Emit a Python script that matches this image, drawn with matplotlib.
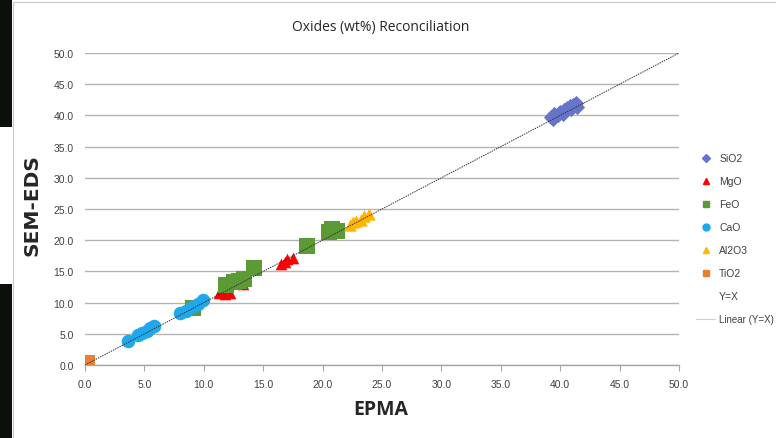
import numpy as np
import matplotlib
matplotlib.use('Agg')
from matplotlib import pyplot as plt
from matplotlib.lines import Line2D
from matplotlib.patches import Rectangle

# data (EPMA, SEM-EDS), wt%
sio2_x = [39.2, 39.5, 39.8, 40.0, 40.3, 40.6, 40.9, 41.1, 41.3, 39.4, 40.2, 40.8, 41.4]
sio2_y = [39.8, 40.3, 40.0, 40.6, 40.9, 41.2, 41.0, 41.6, 42.0, 39.4, 40.2, 41.5, 41.3]
mgo_x = [11.3, 11.6, 11.8, 12.2, 13.3, 16.5, 16.8, 17.0, 17.5]
mgo_y = [11.5, 11.8, 11.3, 11.6, 13.0, 16.2, 16.5, 17.0, 17.2]
feo_x = [9.1, 11.9, 12.5, 13.0, 13.4, 14.2, 18.7, 20.5, 20.8, 21.2]
feo_y = [9.1, 12.8, 13.3, 13.5, 13.8, 15.5, 19.1, 21.3, 21.8, 21.5]
cao_x = [3.6, 4.5, 4.8, 5.2, 5.5, 5.8, 8.0, 8.5, 9.0, 9.5, 9.9]
cao_y = [3.9, 4.8, 5.2, 5.4, 5.9, 6.2, 8.4, 8.7, 9.3, 9.8, 10.4]
al2o3_x = [22.3, 22.6, 22.8, 23.2, 23.5, 23.9]
al2o3_y = [22.4, 22.9, 23.0, 23.3, 23.8, 24.2]
tio2_x = [0.1, 0.2]
tio2_y = [0.2, 0.3]
yx_line = [0.0, 50.0]

tick_font = ['Liberation Sans', 'DejaVu Sans']

fig = plt.figure(figsize=(7.76, 4.39), dpi=100)
fig.patch.set_facecolor('white')

# dark strip on the left of the screenshot
fig.patches.append(Rectangle((0, 0), 12 / 776, 1 - 285 / 439, transform=fig.transFigure,
                             facecolor='#0b100b', edgecolor='none', zorder=0))
fig.patches.append(Rectangle((0, 1 - 128 / 439), 12 / 776, 128 / 439, transform=fig.transFigure,
                             facecolor='#0b100b', edgecolor='none', zorder=0))
fig.add_artist(Line2D([13 / 776, 13 / 776], [0, 1 - 3 / 439], transform=fig.transFigure,
                      color='#c8c8c8', lw=0.8))
fig.add_artist(Line2D([13 / 776, 1], [1 - 3 / 439, 1 - 3 / 439], transform=fig.transFigure,
                      color='#c8c8c8', lw=0.8))

ax = fig.add_axes([85 / 776, 73 / 439, 594 / 776, 312 / 439])

ax.plot(yx_line, yx_line, linestyle=(0, (1.5, 1)), color='#333333', lw=0.7, zorder=3)

ax.scatter(sio2_x, sio2_y, marker='D', s=60, color='#6674cc', zorder=2, linewidths=0)
ax.scatter(mgo_x, mgo_y, marker='^', s=70, color='#ff0000', zorder=2, linewidths=0)
ax.scatter(feo_x, feo_y, marker='s', s=120, color='#5b9a35', zorder=2, linewidths=0)
ax.scatter(cao_x, cao_y, marker='o', s=95, color='#1fa8ec', zorder=2, linewidths=0)
ax.scatter(al2o3_x, al2o3_y, marker='^', s=80, color='#ffb400', zorder=2, linewidths=0)
ax.scatter(tio2_x, tio2_y, marker='s', s=120, color='#ed7d31', zorder=2, linewidths=0)

ax.set_xlim(0, 50)
ax.set_ylim(0, 50)
ticks = np.arange(0, 50.1, 5)
ax.set_xticks(ticks)
ax.set_yticks(ticks)
ax.set_xticklabels(['{:.1f}'.format(t) for t in ticks], family=tick_font, fontsize=7.5, color='#404040')
ax.set_yticklabels(['{:.1f}'.format(t) for t in ticks], family=tick_font, fontsize=7.5, color='#404040')
ax.tick_params(axis='y', length=0, pad=8)
ax.tick_params(axis='x', length=4, color='#a6a6a6', pad=6)
ax.grid(axis='y', color='#b4b4b4', lw=1)
ax.set_axisbelow(True)
for side in ['top', 'right', 'left']:
    ax.spines[side].set_visible(False)
ax.spines['bottom'].set_color('#a6a6a6')
ax.spines['bottom'].set_linewidth(1)

fig.text(381 / 776, 1 - 28 / 439, 'Oxides (wt%) Reconciliation', ha='center', va='center',
         fontsize=10, family='Open Sans', color='#262626')
fig.text(381 / 776, 1 - 410 / 439, 'EPMA', ha='center', va='center',
         fontsize=14, fontweight='bold', family='Open Sans', color='#262626')
fig.text(32 / 776, 1 - 205 / 439, 'SEM-EDS', ha='center', va='center', rotation=90,
         fontsize=14.5, fontweight='bold', family='DejaVu Sans', color='#262626')

handles = [
    Line2D([], [], marker='D', ls='none', color='#6674cc', markersize=4),
    Line2D([], [], marker='^', ls='none', color='#ff0000', markersize=5),
    Line2D([], [], marker='s', ls='none', color='#5b9a35', markersize=5),
    Line2D([], [], marker='o', ls='none', color='#1fa8ec', markersize=5),
    Line2D([], [], marker='^', ls='none', color='#ffb400', markersize=5),
    Line2D([], [], marker='s', ls='none', color='#ed7d31', markersize=5),
    Line2D([], [], ls='none'),
    Line2D([], [], color='#d0d0d0', lw=0.8),
]
labels = ['SiO2', 'MgO', 'FeO', 'CaO', 'Al2O3', 'TiO2', 'Y=X', 'Linear (Y=X)']
leg = fig.legend(handles, labels, loc='upper left', bbox_to_anchor=(692 / 776, 1 - 150 / 439),
                 frameon=False, prop={'family': tick_font, 'size': 7.5}, labelspacing=1.25,
                 handlelength=1.8, handletextpad=0.4, borderaxespad=0)
for t in leg.get_texts():
    t.set_color('#404040')
leg.get_texts()[-1].set_fontsize(7)

fig.savefig('out.png', dpi=100)
